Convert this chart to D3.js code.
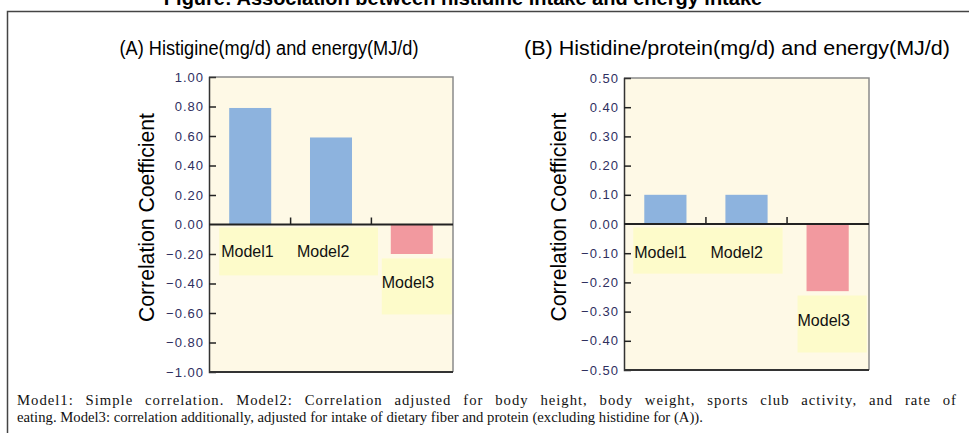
<!DOCTYPE html>
<html>
<head>
<meta charset="utf-8">
<script src="https://cdn.jsdelivr.net/npm/d3@7"></script>
<style>
  body { margin: 0; background: #fff; }
  svg { display: block; }
</style>
</head>
<body>
<div id="chart"></div>
<script>
// data
let models = ['Model1', 'Model2', 'Model3'];
let valuesA = [0.79, 0.59, -0.20];
let valuesB = [0.10, 0.10, -0.23];
let ticksA = [1.0, 0.8, 0.6, 0.4, 0.2, 0, -0.2, -0.4, -0.6, -0.8, -1.0];
let ticksB = [0.5, 0.4, 0.3, 0.2, 0.1, 0, -0.1, -0.2, -0.3, -0.4, -0.5];
let titleA = '(A) Histigine(mg/d) and energy(MJ/d)';
let titleB = '(B) Histidine/protein(mg/d) and energy(MJ/d)';
let noteLines = [
    'Model1: Simple correlation. Model2: Correlation adjusted for body height, body weight, sports club activity, and rate of',
    'eating. Model3: correlation additionally, adjusted for intake of dietary fiber and protein (excluding histidine for (A)).'
];

let width = 969, height = 433;

let svg = d3.select('#chart').append('svg')
    .attr('width', width)
    .attr('height', height);

// main title (clipped at the top like the original)
svg.append('text')
    .attr('x', 463)
    .attr('y', 5)
    .attr('text-anchor', 'middle')
    .style('font-family', 'Liberation Sans, Arial, sans-serif')
    .style('font-weight', 'bold')
    .style('font-size', '20px')
    .text('Figure: Association between histidine intake and energy intake');

// outer frame
svg.append('rect')
    .attr('x', 7.5)
    .attr('y', 11.5)
    .attr('width', 980)
    .attr('height', 440)
    .attr('fill', 'none')
    .attr('stroke', '#444')
    .attr('stroke-width', 1.5);

function drawPanel(opts) {
    let g = svg.append('g');

    let y = d3.scaleLinear()
        .domain([opts.ticks[opts.ticks.length - 1], opts.ticks[0]])
        .range([opts.bottom, opts.top]);

    let x = d3.scaleBand()
        .domain(models)
        .range([opts.left, opts.right])
        .paddingInner(0.48)
        .paddingOuter(0.25);

    // panel title
    g.append('text')
        .attr('x', opts.titleX)
        .attr('y', 55)
        .attr('text-anchor', 'middle')
        .attr('textLength', opts.titleLen)
        .attr('lengthAdjust', 'spacingAndGlyphs')
        .style('font-family', 'Liberation Sans, Arial, sans-serif')
        .style('font-size', '20px')
        .text(opts.title);

    // plot background
    g.append('rect')
        .attr('x', opts.left)
        .attr('y', opts.top)
        .attr('width', opts.right - opts.left)
        .attr('height', opts.bottom - opts.top)
        .attr('fill', '#fef9e6');

    // top and right border (grey)
    g.append('path')
        .attr('d', `M${opts.left},${opts.top}H${opts.right}V${opts.bottom}`)
        .attr('fill', 'none')
        .attr('stroke', '#8a8a8a')
        .attr('stroke-width', 1.5);

    // label boxes
    opts.boxes.forEach(function (b) {
        g.append('rect')
            .attr('x', x(b.from) + b.dx0)
            .attr('y', y(b.y0))
            .attr('width', (x(b.to) + x.bandwidth() + b.dx1) - (x(b.from) + b.dx0))
            .attr('height', y(b.y1) - y(b.y0))
            .attr('fill', '#fdfbca');
    });

    // bars
    g.selectAll('.bar')
        .data(opts.values)
        .enter().append('rect')
        .attr('class', 'bar')
        .attr('x', function (d, i) { return x(models[i]); })
        .attr('y', function (d) { return y(Math.max(0, d)); })
        .attr('width', x.bandwidth())
        .attr('height', function (d) { return Math.abs(y(d) - y(0)); })
        .attr('fill', function (d) { return d >= 0 ? '#8db3de' : '#f2999f'; });

    // model labels
    opts.labels.forEach(function (l, i) {
        g.append('text')
            .attr('x', x(models[i]) + l.dx)
            .attr('y', y(l.y))
            .style('font-family', 'Liberation Sans, Arial, sans-serif')
            .style('font-size', '16px')
            .attr('fill', '#111')
            .text(models[i]);
    });

    // y axis
    let yAxis = g.append('g')
        .attr('transform', `translate(${opts.left},0)`)
        .call(d3.axisRight(y)
            .tickValues(opts.ticks)
            .tickSize(7)
            .tickFormat(d3.format('.2f')));
    yAxis.select('.domain')
        .attr('stroke', '#333')
        .attr('stroke-width', 1.5);
    yAxis.selectAll('.tick line')
        .attr('stroke', '#222')
        .attr('stroke-width', 1.5)
        .style('display', function (d) {
            return (d === opts.ticks[0] || d === opts.ticks[opts.ticks.length - 1] || d === 0) ? 'none' : null;
        });
    yAxis.selectAll('.tick text')
        .attr('x', -5)
        .attr('text-anchor', 'end')
        .attr('fill', '#2f2f5f')
        .style('font-family', 'Liberation Sans, Arial, sans-serif')
        .style('font-size', '13px')
        .style('letter-spacing', '1px')
        .text(function (d) { return d3.format('.2f')(d).replace('-', '\u2212'); });

    // bottom axis line
    g.append('line')
        .attr('x1', opts.left)
        .attr('x2', opts.right)
        .attr('y1', opts.bottom)
        .attr('y2', opts.bottom)
        .attr('stroke', '#333')
        .attr('stroke-width', 2);

    // zero line with category separators
    let step = x.step();
    let zeroAxis = g.append('g')
        .attr('transform', `translate(0,${y(0)})`)
        .call(d3.axisTop(x).tickSize(0).tickFormat(''));
    zeroAxis.select('.domain')
        .attr('d', `M${opts.left},0H${opts.right}`)
        .attr('stroke', '#222')
        .attr('stroke-width', 1.8);
    zeroAxis.selectAll('.tick').remove();
    zeroAxis.selectAll('.sep')
        .data(models.slice(1))
        .enter().append('line')
        .attr('x1', function (d) { return x(d) - (step - x.bandwidth()) / 2; })
        .attr('x2', function (d) { return x(d) - (step - x.bandwidth()) / 2; })
        .attr('y1', 0)
        .attr('y2', -7)
        .attr('stroke', '#222')
        .attr('stroke-width', 1.5);

    // y title
    g.append('text')
        .attr('transform', `translate(${opts.yTitleX},${(opts.top + opts.bottom) / 2 - 7}) rotate(-90)`)
        .attr('text-anchor', 'middle')
        .attr('dy', '0.35em')
        .attr('textLength', 209)
        .attr('lengthAdjust', 'spacingAndGlyphs')
        .style('font-family', 'Liberation Sans, Arial, sans-serif')
        .style('font-size', '22px')
        .text('Correlation Coefficient');
}

drawPanel({
    title: titleA,
    titleX: 269,
    titleLen: 299,
    values: valuesA,
    ticks: ticksA,
    left: 209, right: 453, top: 77, bottom: 372,
    yTitleX: 146,
    boxes: [
        {from: 'Model1', to: 'Model2', dx0: -10, dx1: 26, y0: -0.02, y1: -0.345},
        {from: 'Model3', to: 'Model3', dx0: -9, dx1: 19, y0: -0.23, y1: -0.61}
    ],
    labels: [
        {dx: -8, y: -0.22},
        {dx: -13, y: -0.22},
        {dx: -9, y: -0.43}
    ]
});

drawPanel({
    title: titleB,
    titleX: 737,
    titleLen: 426,
    values: valuesB,
    ticks: ticksB,
    left: 624, right: 869, top: 78, bottom: 370,
    yTitleX: 558,
    boxes: [
        {from: 'Model1', to: 'Model2', dx0: -11, dx1: 15, y0: -0.012, y1: -0.17},
        {from: 'Model3', to: 'Model3', dx0: -9, dx1: 18, y0: -0.245, y1: -0.44}
    ],
    labels: [
        {dx: -10, y: -0.115},
        {dx: -15, y: -0.115},
        {dx: -9, y: -0.35}
    ]
});

// footnote, first line justified (a little letter spacing, the rest in the word gaps)
let note = svg.append('g')
    .style('font-family', 'Liberation Serif, Times New Roman, serif')
    .style('font-size', '14.7px')
    .attr('fill', '#111');
noteLines.forEach(function (line, i) {
    let t = note.append('text')
        .attr('x', 17)
        .attr('y', 405 + i * 17)
        .text(line);
    if (i === 0) {
        t.style('letter-spacing', '1px');
        let len = t.node().getComputedTextLength();
        let gaps = line.split(' ').length - 1;
        t.style('word-spacing', Math.max(0, (940 - len) / gaps) + 'px');
    }
});
</script>
</body>
</html>
